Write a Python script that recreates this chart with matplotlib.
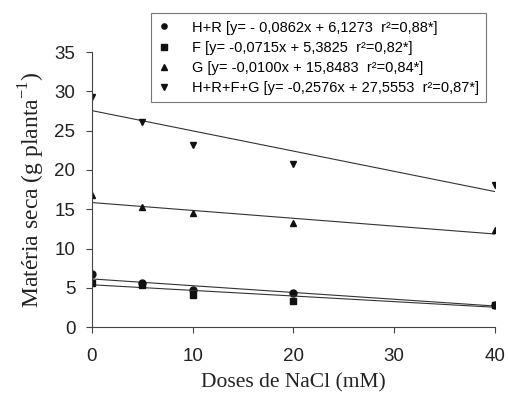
import matplotlib
matplotlib.use("Agg")
import matplotlib.pyplot as plt
import numpy as np

plt.rcParams['mathtext.fontset'] = 'custom'
plt.rcParams['mathtext.rm'] = 'Liberation Serif'

# doses de NaCl (mM)
doses = [0, 5, 10, 20, 40]

# materia seca
hr = [6.8, 5.55, 4.7, 4.3, 2.8]
f = [5.6, 5.35, 4.05, 3.3, 2.8]
g = [16.8, 15.3, 14.5, 13.2, 12.4]
total = [29.3, 26.1, 23.2, 20.8, 18.1]

# retas ajustadas (inclinacao, intercepto) como desenhadas
fit_hr = (-0.0862, 6.1273)
fit_f = (-0.0715, 5.3825)
fit_g = (-0.100, 15.8483)   # a reta desenhada cai ~4 unidades ate 40 mM
fit_total = (-0.2576, 27.5553)

labels = ['H+R [y= - 0,0862x + 6,1273  r²=0,88*]',
          'F [y= -0,0715x + 5,3825  r²=0,82*]',
          'G [y= -0,0100x + 15,8483  r²=0,84*]',
          'H+R+F+G [y= -0,2576x + 27,5553  r²=0,87*]']

fig = plt.figure(figsize=(5.08, 3.95), dpi=100)
ax = fig.add_axes([0.181, 0.172, 0.793, 0.696])

series = [(hr, fit_hr, 'o', 5), (f, fit_f, 's', 5),
          (g, fit_g, '^', 5), (total, fit_total, 'v', 5)]
handles = []
xl = np.array([0, 40])
for (vals, (a, b), m, ms) in series:
    ax.plot(xl, a * xl + b, color='#333333', lw=0.8)
    h, = ax.plot(doses, vals, m, color='#111111', ms=ms, ls='none')
    handles.append(h)

ax.set_xlim(0, 40)
ax.set_ylim(0, 35)
ax.set_xticks([0, 10, 20, 30, 40])
ax.set_yticks(range(0, 36, 5))
for s in ['top', 'right']:
    ax.spines[s].set_visible(False)
for s in ['left', 'bottom']:
    ax.spines[s].set_color('#444444')
    ax.spines[s].set_linewidth(0.8)
ax.tick_params(direction='out', length=4, width=0.8, color='#444444',
               labelsize=13.5, pad=8)
ax.tick_params(axis='x', pad=11)
for t in ax.get_xticklabels() + ax.get_yticklabels():
    t.set_fontfamily('Liberation Sans')
    t.set_color('#222222')

ax.set_xlabel('Doses de NaCl (mM)', family='Liberation Serif', fontsize=15.5,
              color='#222222', labelpad=6)
ax.set_ylabel(r'Matéria seca (g planta$^{\rm{-1}}$)', family='Liberation Serif',
              fontsize=17, color='#222222', labelpad=5)

leg = fig.legend(handles, labels, loc='upper left', bbox_to_anchor=(0.283, 0.985),
                 prop={'family': 'Liberation Sans', 'size': 10.5}, frameon=True,
                 fancybox=False, handlelength=0.8, handletextpad=1.5,
                 borderpad=0.5, labelspacing=0.42, markerscale=0.75)
leg.get_frame().set_edgecolor('#555555')
leg.get_frame().set_linewidth(0.8)

fig.savefig('out.png', dpi=100)
